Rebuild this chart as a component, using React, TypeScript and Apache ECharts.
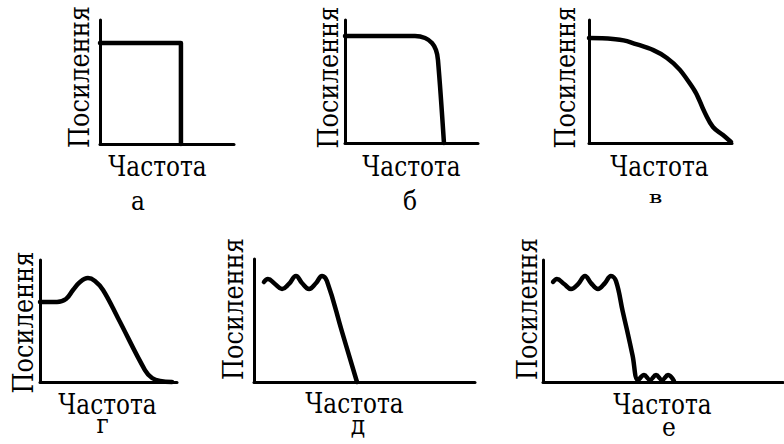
import React, { useEffect, useRef } from "react";
import * as echarts from "echarts";

// Gain vs. frequency curves; both axes run 0–100 in each panel.
const curveA = [[0, 81.5], [60.4, 81.5], [60.4, 0]];
const curveB = [[0, 87], [52.6, 87], [60.2, 85.4], [65.4, 81.3], [68.4, 75.6], [69.9, 67.5], [74.4, 0]];
const curveC = [[0, 85.4], [16.8, 84.6], [28.7, 82.1], [54.5, 69.1], [72.7, 44.7], [81.1, 24.4], [86.7, 13], [93.7, 6.5], [99.3, 0.8]];
const curveD = [[0, 65.6], [12.4, 65.6], [19, 68], [24.1, 75.4], [29.2, 82], [35, 85.2], [40.1, 82.8], [46, 75.4], [56.9, 52.5], [76.6, 9.8], [81.8, 3.3], [87.6, 0.8], [96.4, 0]];
const curveE = [[4.5, 81.3], [6.3, 83.7], [9.5, 79.7], [12.7, 75.6], [15.8, 79.7], [19, 86.2], [21.7, 80.5], [24.9, 75.6], [28.1, 80.5], [30.8, 86.2], [33, 82.1], [39.8, 41], [46.6, 0]];
const curveF = [[4.2, 82], [5.8, 84.4], [8.8, 80.3], [11.7, 76.2], [14.6, 80.3], [17.5, 86.9], [20, 81.1], [22.9, 76.2], [25.8, 81.1], [28.3, 86.9], [30.4, 82.8], [33.2, 58], [35, 42.6], [37.3, 22], [39.6, 1.6], [42.1, 5.7], [44.6, 1.6], [47.1, 5.7], [49.6, 1.6], [52.1, 5.7], [54.6, 0.8]];

const panelLetters = ["а", "б", "в", "г", "д", "е"];
const gainTitle = "Посилення";
const freqTitle = "Частота";

const curves = [curveA, curveB, curveC, curveD, curveE, curveF];
const smoothing = [0, 0.35, 0.4, 0.4, 0.45, 0.4];

// Plot areas and label anchors, in pixels
const layout = [
  { grid: { left: 100, top: 20, width: 134, height: 124 }, gain: [79, 77], freq: [157.5, 166.5], letter: [138, 201.5] },
  { grid: { left: 345, top: 20, width: 133, height: 123 }, gain: [328, 77.5], freq: [411.5, 167], letter: [410, 201] },
  { grid: { left: 589, top: 20, width: 143, height: 123 }, gain: [565.5, 77.5], freq: [659.5, 167], letter: [655.5, 197] },
  { grid: { left: 40, top: 260, width: 137, height: 122 }, gain: [23.5, 322.5], freq: [107.5, 405], letter: [102.5, 424] },
  { grid: { left: 254, top: 259, width: 221, height: 123 }, gain: [233.5, 309], freq: [354.5, 404], letter: [358, 425.5] },
  { grid: { left: 543, top: 260, width: 240, height: 122 }, gain: [527.5, 309], freq: [662.5, 405], letter: [669, 427.5] },
];

const FONT = "'DejaVu Serif', serif";
const INK = "#000";

function buildOption() {
  const axisCommon = {
    type: "value",
    min: 0,
    max: 100,
    axisLine: { show: true, onZero: false, lineStyle: { color: INK, width: 3 } },
    axisTick: { show: false },
    axisLabel: { show: false },
    splitLine: { show: false },
  };
  const graphic: any[] = [];
  layout.forEach((p, i) => {
    graphic.push({
      type: "text",
      x: p.gain[0],
      y: p.gain[1],
      rotation: Math.PI / 2,
      scaleX: 0.86,
      style: { text: gainTitle, fontSize: 28, fontFamily: FONT, fill: INK, align: "center", verticalAlign: "middle" },
    });
    graphic.push({
      type: "text",
      x: p.freq[0],
      y: p.freq[1],
      scaleX: 0.86,
      style: { text: freqTitle, fontSize: 27, fontFamily: FONT, fill: INK, align: "center", verticalAlign: "middle" },
    });
    const small = panelLetters[i] === "в";
    graphic.push({
      type: "text",
      x: p.letter[0],
      y: p.letter[1],
      scaleX: small ? 1.1 : 0.9,
      scaleY: small ? 0.75 : 1,
      style: { text: panelLetters[i], fontSize: small ? 22 : 26, lineHeight: 26, fontFamily: FONT, fill: INK, align: "center", verticalAlign: "middle" },
    });
  });
  return {
    animation: false,
    backgroundColor: "#fff",
    grid: layout.map((p) => ({ ...p.grid, containLabel: false })),
    xAxis: layout.map((_, i) => ({ ...axisCommon, gridIndex: i })),
    yAxis: layout.map((_, i) => ({ ...axisCommon, gridIndex: i })),
    series: curves.map((data, i) => ({
      type: "line",
      xAxisIndex: i,
      yAxisIndex: i,
      data,
      smooth: smoothing[i] || false,
      symbol: "none",
      clip: false,
      silent: true,
      lineStyle: { color: INK, width: 4.5, cap: "round", join: "round" },
    })),
    graphic,
  };
}

export default function App() {
  const ref = useRef<HTMLDivElement>(null);
  useEffect(() => {
    if (!ref.current) return;
    const chart = echarts.init(ref.current, undefined, { renderer: "svg" });
    chart.setOption(buildOption() as any);
    return () => chart.dispose();
  }, []);
  return <div ref={ref} style={{ position: "fixed", left: 0, top: 0, width: 784, height: 444, background: "#fff" }} />;
}
